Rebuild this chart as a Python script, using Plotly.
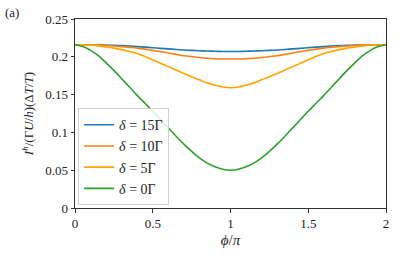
import plotly.graph_objects as go

phi = [0.0, 0.05, 0.1, 0.15, 0.2, 0.25, 0.3, 0.35, 0.4, 0.45, 0.5,
       0.55, 0.6, 0.65, 0.7, 0.75, 0.8, 0.85, 0.9, 0.95, 1.0,
       1.05, 1.1, 1.15, 1.2, 1.25, 1.3, 1.35, 1.4, 1.45, 1.5,
       1.55, 1.6, 1.65, 1.7, 1.75, 1.8, 1.85, 1.9, 1.95, 2.0]

d15 = [0.216, 0.216, 0.2158, 0.2157, 0.2155, 0.2152, 0.2148, 0.2142, 0.2135, 0.2128, 0.212,
       0.2112, 0.2105, 0.2097, 0.209, 0.2085, 0.208, 0.2076, 0.2073, 0.2071, 0.207,
       0.2071, 0.2073, 0.2076, 0.208, 0.2085, 0.209, 0.2097, 0.2105, 0.2112, 0.212,
       0.2128, 0.2135, 0.2142, 0.2148, 0.2152, 0.2155, 0.2157, 0.2158, 0.216, 0.216]
d10 = [0.216, 0.216, 0.2157, 0.2154, 0.215, 0.2143, 0.2135, 0.2125, 0.2115, 0.2101, 0.2085,
       0.2068, 0.205, 0.2032, 0.2015, 0.2002, 0.199, 0.1981, 0.1975, 0.1971, 0.197,
       0.1971, 0.1975, 0.1981, 0.199, 0.2002, 0.2015, 0.2032, 0.205, 0.2068, 0.2085,
       0.2101, 0.2115, 0.2125, 0.2135, 0.2143, 0.215, 0.2154, 0.2157, 0.216, 0.216]
d5 = [0.216, 0.2159, 0.2155, 0.2145, 0.213, 0.2115, 0.2095, 0.207, 0.2045, 0.2005, 0.196,
      0.1915, 0.187, 0.1825, 0.178, 0.1735, 0.1695, 0.1655, 0.1625, 0.160, 0.159,
      0.160, 0.1625, 0.1655, 0.1695, 0.1735, 0.178, 0.1825, 0.187, 0.1915, 0.196,
      0.2005, 0.2045, 0.207, 0.2095, 0.2115, 0.213, 0.2145, 0.2155, 0.2159, 0.216]
d0 = [0.216, 0.2135, 0.2085, 0.2015, 0.192, 0.182, 0.171, 0.160, 0.149, 0.1385, 0.128,
      0.117, 0.106, 0.095, 0.0845, 0.0748, 0.0662, 0.0593, 0.0545, 0.0512, 0.050,
      0.0512, 0.0545, 0.0593, 0.0662, 0.0748, 0.0845, 0.095, 0.106, 0.117, 0.128,
      0.1385, 0.149, 0.160, 0.171, 0.182, 0.192, 0.2015, 0.2085, 0.2135, 0.216]

series = [
    ("<i>δ</i> = 15Γ", d15, "#1f77b4"),
    ("<i>δ</i> = 10Γ", d10, "#ff7f0e"),
    ("<i>δ</i> = 5Γ", d5, "#ffa500"),
    ("<i>δ</i> = 0Γ", d0, "#2ca02c"),
]

xticks = [0, 0.5, 1, 1.5, 2]
xticklabels = ["0", "0.5", "1", "1.5", "2"]
yticks = [0, 0.05, 0.1, 0.15, 0.2, 0.25]
yticklabels = ["0", "0.05", "0.1", "0.15", "0.2", "0.25"]

fig = go.Figure()
for name, ys, col in series:
    fig.add_trace(go.Scatter(x=phi, y=ys, mode="lines", name=name,
                             line=dict(color=col, width=1.6, shape="spline", smoothing=0.8)))

font = "Liberation Serif, DejaVu Serif, serif"
fig.update_layout(
    width=415, height=258,
    margin=dict(l=75, r=29, t=18, b=47),
    paper_bgcolor="white", plot_bgcolor="white",
    font=dict(family=font, size=13, color="#222"),
    showlegend=True,
    legend=dict(x=0.01, y=0.015, xanchor="left", yanchor="bottom",
                bgcolor="rgba(255,255,255,0.85)", bordercolor="#d0d0d0", borderwidth=1,
                font=dict(family=font, size=14), tracegroupgap=0,
                itemwidth=30),
    xaxis=dict(range=[0, 2], tickvals=xticks, ticktext=xticklabels,
               showline=True, linecolor="#333", linewidth=1, mirror=True,
               ticks="outside", ticklen=3.5, tickcolor="#333",
               showgrid=False, zeroline=False,
               title=dict(text="<i>ϕ</i>/<i>π</i>", font=dict(size=15), standoff=4)),
    yaxis=dict(range=[0, 0.25], tickvals=yticks, ticktext=yticklabels,
               showline=True, linecolor="#333", linewidth=1, mirror=True,
               ticks="outside", ticklen=3.5, tickcolor="#333",
               showgrid=False, zeroline=False,
               title=dict(text="<i>I</i><sup><i>h</i></sup>/(Γ<i>U</i>/<i>h</i>)(Δ<i>T</i>/<i>T</i>)",
                          font=dict(size=13), standoff=8)),
    annotations=[dict(text="(a)", x=0, y=1, xref="paper", yref="paper",
                      xanchor="left", yanchor="top", xshift=-72, yshift=16,
                      showarrow=False, font=dict(family=font, size=13))],
)

fig.write_html("out.html", config={"displayModeBar": False},
               post_script="document.body.style.margin='0';")
